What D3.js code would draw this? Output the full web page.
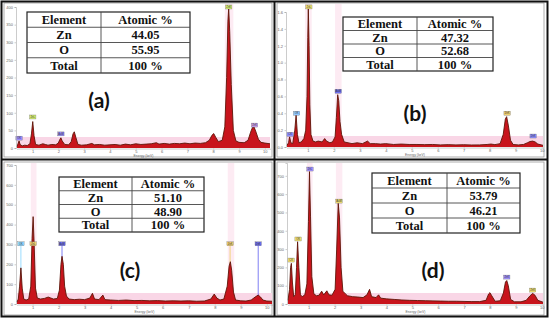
<!DOCTYPE html>
<html>
<head>
<meta charset="utf-8">
<script src="https://cdnjs.cloudflare.com/ajax/libs/d3/7.8.5/d3.min.js"></script>
<style>
body{margin:0;background:#fff;}
.tick text{font-family:"Liberation Sans",sans-serif;font-size:4px;fill:#666;}
.tick line{stroke:#999;stroke-width:0.5;}
.domain{stroke:#aaa;stroke-width:0.6;}
</style>
</head>
<body>
<div id="chart"></div>
<script>
let width=550;
let height=321;

// energy (keV), counts
let spectrumA=[[0.40,4],[0.44,12],[0.48,20],[0.52,10],[0.6,6],[0.7,8],[0.8,7],[0.9,12],[0.96,40],[1.01,75],[1.06,35],[1.12,10],[1.25,8],[1.4,12],[1.5,10],[1.6,8],[1.75,10],[1.9,9],[2.0,14],[2.06,24],[2.1,29],[2.15,20],[2.25,10],[2.4,9],[2.5,18],[2.57,40],[2.62,46],[2.68,30],[2.76,10],[2.9,8],[3.1,9],[3.3,13],[3.4,9],[3.6,10],[3.8,8],[4.0,9],[4.2,10],[4.4,8],[4.6,11],[4.8,9],[5.0,12],[5.2,10],[5.4,11],[5.6,12],[5.8,15],[5.9,11],[6.1,13],[6.3,11],[6.5,13],[6.7,12],[6.9,14],[7.1,12],[7.3,14],[7.5,13],[7.7,15],[7.85,22],[7.95,36],[8.02,41],[8.1,30],[8.2,18],[8.35,22],[8.45,60],[8.52,200],[8.57,360],[8.6,397],[8.64,330],[8.7,180],[8.78,50],[8.88,20],[9.0,16],[9.2,15],[9.35,22],[9.45,45],[9.52,58],[9.58,60],[9.66,45],[9.75,25],[9.85,16],[10.0,14],[10.2,12]];
let spectrumB=[[0.2,0.02],[0.26,0.05],[0.3,0.12],[0.35,0.05],[0.42,0.04],[0.5,0.2],[0.55,0.38],[0.6,0.15],[0.66,0.05],[0.75,0.06],[0.85,0.1],[0.92,0.2],[0.97,0.6],[1.0,1.3],[1.02,1.66],[1.05,1.2],[1.08,0.5],[1.12,0.15],[1.2,0.07],[1.3,0.06],[1.4,0.07],[1.55,0.06],[1.65,0.1],[1.72,0.07],[1.85,0.05],[1.95,0.06],[2.05,0.12],[2.1,0.35],[2.15,0.62],[2.19,0.55],[2.24,0.3],[2.3,0.15],[2.4,0.06],[2.55,0.05],[2.7,0.04],[2.9,0.05],[3.1,0.04],[3.3,0.07],[3.4,0.04],[3.6,0.04],[3.8,0.035],[4.0,0.04],[4.3,0.03],[4.6,0.035],[4.9,0.03],[5.2,0.03],[5.5,0.028],[5.8,0.03],[6.1,0.025],[6.4,0.028],[6.7,0.025],[7.0,0.027],[7.3,0.024],[7.6,0.025],[7.9,0.03],[8.05,0.035],[8.2,0.028],[8.4,0.04],[8.52,0.15],[8.6,0.33],[8.65,0.36],[8.72,0.25],[8.8,0.08],[8.9,0.03],[9.1,0.025],[9.3,0.03],[9.45,0.05],[9.55,0.065],[9.65,0.07],[9.75,0.06],[9.85,0.035],[10.05,0.02]];
let spectrumC=[[0.4,10],[0.45,25],[0.5,90],[0.55,182],[0.6,80],[0.66,25],[0.75,20],[0.85,25],[0.93,90],[0.98,330],[1.02,440],[1.06,300],[1.11,80],[1.18,30],[1.3,25],[1.45,28],[1.6,35],[1.7,30],[1.8,25],[1.95,28],[2.03,70],[2.09,200],[2.13,240],[2.18,200],[2.23,90],[2.3,40],[2.4,25],[2.6,22],[2.8,24],[3.0,22],[3.2,30],[3.3,54],[3.38,25],[3.55,22],[3.7,45],[3.78,22],[4.0,20],[4.3,18],[4.6,20],[4.9,17],[5.2,18],[5.5,16],[5.8,17],[6.1,15],[6.4,16],[6.7,15],[7.0,16],[7.3,14],[7.6,15],[7.85,25],[7.98,50],[8.08,30],[8.2,20],[8.35,25],[8.48,90],[8.55,190],[8.6,213],[8.65,170],[8.72,60],[8.8,20],[9.0,16],[9.2,15],[9.4,20],[9.55,35],[9.67,45],[9.76,35],[9.85,20],[10.0,15],[10.2,14]];
let spectrumD=[[0.2,20],[0.26,80],[0.3,200],[0.33,222],[0.37,120],[0.42,40],[0.48,50],[0.53,200],[0.57,340],[0.62,200],[0.68,50],[0.75,40],[0.85,50],[0.93,110],[0.99,450],[1.03,723],[1.07,480],[1.12,150],[1.2,55],[1.3,45],[1.4,48],[1.5,70],[1.58,50],[1.7,72],[1.78,50],[1.9,48],[2.02,80],[2.08,300],[2.14,550],[2.19,470],[2.25,200],[2.32,70],[2.42,55],[2.5,45],[2.7,40],[2.9,38],[3.1,35],[3.25,50],[3.35,80],[3.43,40],[3.6,35],[3.7,50],[3.78,32],[4.0,28],[4.3,25],[4.6,22],[4.9,20],[5.2,19],[5.5,18],[5.8,17],[6.1,16],[6.4,15],[6.7,15],[7.0,14],[7.3,13],[7.6,13],[7.85,20],[7.95,55],[8.0,62],[8.07,45],[8.2,15],[8.4,18],[8.52,60],[8.6,120],[8.65,128],[8.71,100],[8.8,25],[8.95,12],[9.2,12],[9.4,20],[9.55,45],[9.65,58],[9.74,48],[9.85,20],[10.05,10]];

// peak tags: energy, level, tag colour, element
let tagsA=[[0.48,28,"#9a8cff","OK"],[1.01,88,"#d8f070","ZnL"],[2.1,40,"#9a8cff","AuM"],[8.6,400,"#d8f070","ZnK"],[9.6,65,"#c8a0f0","ZnK"]];
let tagsB=[[0.32,0.15,"#8c8cff","CK"],[0.57,0.40,"#90c8ff","OK"],[1.04,1.66,"#f0e070","ZnL"],[2.17,0.66,"#7070f0","AuM"],[8.67,0.40,"#f0d070","ZnK"],[9.67,0.13,"#8c8cff","ZnK"]];
let tagsC=[[0.55,303,"#90d8ff","OK"],[1.02,303,"#f0d070","ZnL"],[2.13,303,"#7070f0","AuM"],[8.59,303,"#f0d070","ZnK"],[9.67,303,"#7070f0","ZnK"]];
let tagsD=[[0.32,240,"#f0e070","CK"],[0.59,355,"#f0e070","OK"],[1.05,737,"#a090ff","ZnL"],[2.17,562,"#f0e070","AuM"],[8.65,147,"#a090ff","ZnK"],[9.65,76,"#f0e070","ZnK"]];

// highlighted energy windows
let roiA=[[8.45,8.78]];
let roiB=[[0.9,1.15],[2.05,2.3]];
let roiC=[[0.93,1.15],[8.5,8.75]];
let roiD=[[0.93,1.15],[2.05,2.3]];

let xTicks=[1,2,3,4,5,6,7,8,9,10];
let yTicksA=[0,50,100,150,200,250,300,350,400];
let yTicksB=[0,0.2,0.4,0.6,0.8,1.0,1.2,1.4,1.6];
let yTicksC=[0,100,200,300,400,500,600,700];
let yTicksD=[0,100,200,300,400,500,600,700];

let samples=["(a)","(b)","(c)","(d)"];
let atomicZn=[44.05,47.32,51.10,53.79];
let atomicO=[55.95,52.68,48.90,46.21];

let panels=[
 {spec:spectrumA,tags:tagsA,roi:roiA,yt:yTicksA,fmt:d3.format("d"),xd:[0.4,10.2],xr:[17,270],yd:[0,400],yr:[148,7],top:4,frame:[4,3,272,157],tbl:[27,12,190,73,101],lbl:[99,108],lines:false},
 {spec:spectrumB,tags:tagsB,roi:roiB,yt:yTicksB,fmt:d3.format(".1f"),xd:[0.2,10.05],xr:[287,543],yd:[0,1.6],yr:[147,12],top:4,frame:[277,3,544,157],tbl:[343,17,493,71,417],lbl:[415,121],lines:false},
 {spec:spectrumC,tags:tagsC,roi:roiC,yt:yTicksC,fmt:d3.format("d"),xd:[0.4,10.2],xr:[17,272],yd:[0,700],yr:[304,165],top:163,frame:[4,162,272,315],tbl:[59,177,204,232,132],lbl:[130,278],lines:true},
 {spec:spectrumD,tags:tagsD,roi:roiD,yt:yTicksD,fmt:d3.format("d"),xd:[0.2,10.05],xr:[288,543],yd:[0,770],yr:[304,163],top:163,frame:[277,162,544,315],tbl:[372,173,520,233,447],lbl:[433,278],lines:false}
];

let svg=d3.select("#chart").append("svg").attr("width",width).attr("height",height);
svg.append("rect").attr("width",width).attr("height",height).attr("fill","#fff");

panels.forEach(function(p,i){
  let x=d3.scaleLinear().domain(p.xd).range(p.xr);
  let y=d3.scaleLinear().domain(p.yd).range(p.yr);
  let g=svg.append("g");
  let y0=y(0);

  g.append("rect").attr("x",p.frame[0]).attr("y",p.frame[1])
   .attr("width",p.frame[2]-p.frame[0]).attr("height",p.frame[3]-p.frame[1])
   .attr("fill","none").attr("stroke","#999").attr("stroke-width",0.8);

  // pink energy windows
  g.selectAll(".roi").data(p.roi).enter().append("rect")
   .attr("x",d=>x(d[0])).attr("width",d=>x(d[1])-x(d[0]))
   .attr("y",p.top).attr("height",y0-p.top)
   .attr("fill","#fdebf3");
  // pink band along the baseline
  g.append("rect").attr("x",p.xr[0]).attr("width",p.xr[1]-p.xr[0])
   .attr("y",y0-11).attr("height",11).attr("fill","#f9d6e6");

  if(p.lines){
    g.selectAll(".mk").data(p.tags).enter().append("line")
     .attr("x1",d=>x(d[0])).attr("x2",d=>x(d[0]))
     .attr("y1",d=>y(d[1])).attr("y2",y0)
     .attr("stroke",d=>d[2]).attr("stroke-width",0.9);
  }

  let area=d3.area().x(d=>x(d[0])).y0(y0).y1(d=>y(d[1]));
  let line=d3.line().x(d=>x(d[0])).y(d=>y(d[1]));
  g.append("path").datum(p.spec).attr("d",area).attr("fill","#c8141c");
  g.append("path").datum(p.spec).attr("d",line).attr("fill","none")
   .attr("stroke","#5e1508").attr("stroke-width",0.9);

  // peak tags
  let t=g.selectAll(".tag").data(p.tags).enter().append("g")
   .attr("transform",d=>"translate("+x(d[0])+","+y(d[1])+")");
  t.append("rect").attr("x",-3.2).attr("y",-2).attr("width",6.4).attr("height",4)
   .attr("fill",d=>d[2]).attr("stroke","#666").attr("stroke-width",0.3);
  t.append("text").text(d=>d[3]).attr("y",1.1).attr("text-anchor","middle")
   .attr("font-family","Liberation Sans").attr("font-size",2.6).attr("fill","#333");

  // axes
  g.append("g").attr("transform","translate(0,"+(y0+0.5)+")")
   .call(d3.axisBottom(x).tickValues(xTicks).tickSize(1).tickPadding(0.6));
  g.append("g").attr("transform","translate("+(p.xr[0]-1)+",0)")
   .call(d3.axisLeft(y).tickValues(p.yt).tickFormat(p.fmt).tickSize(1.5).tickPadding(1.5));
  g.append("text").text("Energy (keV)").attr("x",(p.xr[0]+p.xr[1])/2).attr("y",y0+9.2)
   .attr("text-anchor","middle").attr("font-family","Liberation Sans")
   .attr("font-size",3.4).attr("fill","#666");

  // composition table
  let b=p.tbl;
  let rows=[["Element","Atomic %"],["Zn",atomicZn[i].toFixed(2)],["O",atomicO[i].toFixed(2)],["Total","100 %"]];
  let rh=(b[3]-b[1])/rows.length;
  let tg=g.append("g");
  tg.append("rect").attr("x",b[0]).attr("y",b[1]).attr("width",b[2]-b[0]).attr("height",b[3]-b[1])
   .attr("fill","#fff").attr("stroke","#222").attr("stroke-width",1.2);
  tg.append("line").attr("x1",b[4]).attr("x2",b[4]).attr("y1",b[1]).attr("y2",b[3])
   .attr("stroke","#444").attr("stroke-width",0.9);
  for(let r=1;r<rows.length;r++){
    tg.append("line").attr("x1",b[0]).attr("x2",b[2]).attr("y1",b[1]+r*rh).attr("y2",b[1]+r*rh)
     .attr("stroke","#444").attr("stroke-width",0.9);
  }
  rows.forEach(function(row,r){
    let cy=b[1]+r*rh+rh/2+4.3;
    tg.append("text").text(row[0]).attr("x",(b[0]+b[4])/2).attr("y",cy)
     .attr("text-anchor","middle").attr("font-family","Liberation Serif").attr("font-weight","bold")
     .attr("font-size",12.5).attr("fill","#111");
    tg.append("text").text(row[1]).attr("x",(b[4]+b[2])/2).attr("y",cy)
     .attr("text-anchor","middle").attr("font-family","Liberation Serif").attr("font-weight","bold")
     .attr("font-size",12.5).attr("fill","#111");
  });

  g.append("text").text(samples[i]).attr("x",p.lbl[0]).attr("y",p.lbl[1])
   .attr("text-anchor","middle").attr("font-family","Lato").attr("font-weight","bold")
   .attr("font-size",21).attr("fill","#111");
});

// panel frames
svg.append("rect").attr("x",1.5).attr("y",1.5).attr("width",546).attr("height",315)
 .attr("fill","none").attr("stroke","#111").attr("stroke-width",2);
svg.append("line").attr("x1",274.5).attr("x2",274.5).attr("y1",1.5).attr("y2",316.5)
 .attr("stroke","#111").attr("stroke-width",2);
svg.append("line").attr("x1",1.5).attr("x2",547.5).attr("y1",159.5).attr("y2",159.5)
 .attr("stroke","#111").attr("stroke-width",2);
</script>
</body>
</html>
